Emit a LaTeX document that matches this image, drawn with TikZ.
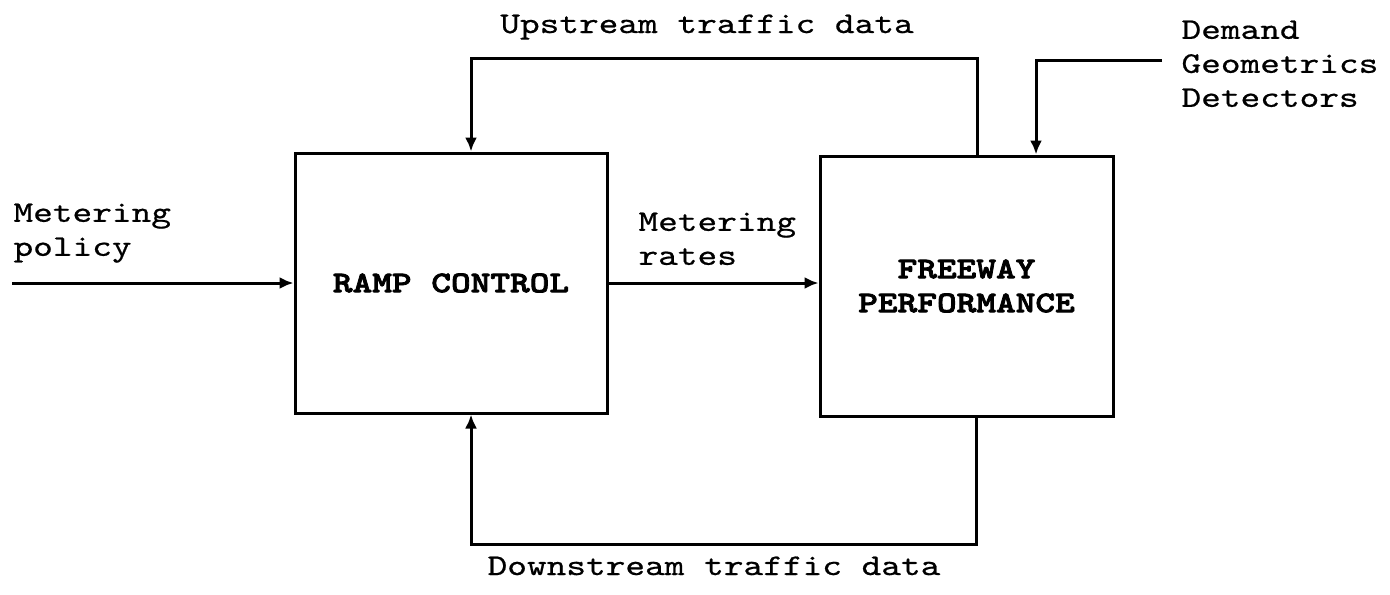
\documentclass[tikz,border=0pt]{standalone}
\usepackage{fontspec}
\newfontfamily\typewriter[FakeStretch=1.25, FakeBold=0.6]{lmmono10-regular.otf}
\newfontfamily\typewriterbf[FakeStretch=1.25, FakeBold=2.6]{lmmonolt10-bold.otf}
\usetikzlibrary{positioning, calc, arrows.meta}

\begin{document}
\begin{tikzpicture}[
    x=0.5pt, y=-0.5pt,
    block/.style={draw, line width=1.5pt, rectangle, minimum height=130pt,
                  font=\typewriterbf\fontsize{15pt}{17pt}\selectfont,
                  align=center},
    lbl/.style={inner sep=0pt, align=left,
                font=\typewriter\fontsize{15pt}{17pt}\selectfont},
    >={Latex[length=7pt, width=6pt]}, line width=1.5pt,
]
\useasboundingbox (0,0) rectangle (1390,594);

% =================================================================
%  BLOCKS
% =================================================================
\node[block, minimum width=156pt]   (ramp)    at (451, 283)   {RAMP CONTROL};
\node[block, minimum width=146.5pt] (freeway) at (966.5, 286) {FREEWAY\\PERFORMANCE};

% =================================================================
%  FORWARD PATH
% =================================================================
\coordinate (polin) at (12, 283);
\draw[->] (polin) -- (ramp.west);
\draw[->] (ramp.east) -- (ramp.east -| freeway.west);

\node[lbl, anchor=north west] (pollbl)  at (12, 202)  {Metering\\policy};
\node[lbl, anchor=north west] (ratelbl) at (637, 211) {Metering\\rates};

% =================================================================
%  UPSTREAM FEEDBACK (top)
% =================================================================
\coordinate (upR) at (977, 58);
\coordinate (upL) at (471, 58);
\draw[->] (upR |- freeway.north) -- (upR) -- (upL) -- (upL |- ramp.north);
\node[lbl, anchor=base] (uplbl) at (707, 33) {Upstream traffic data};

% =================================================================
%  EXTERNAL INPUTS
% =================================================================
\coordinate (extin) at (1162, 60);
\coordinate (extK)  at (1036, 60);
\draw[->] (extin) -- (extK) -- (extK |- freeway.north);
\node[lbl, anchor=north west] (extlbl) at (1180, 19)
      {Demand\\Geometrics\\Detectors};

% =================================================================
%  DOWNSTREAM FEEDBACK (bottom)
% =================================================================
\coordinate (dnR) at (976, 544);
\coordinate (dnL) at (471, 544);
\draw[->] (dnR |- freeway.south) -- (dnR) -- (dnL) -- (dnL |- ramp.south);
\node[lbl, anchor=base] (dnlbl) at (714, 575) {Downstream traffic data};

\end{tikzpicture}
\end{document}
